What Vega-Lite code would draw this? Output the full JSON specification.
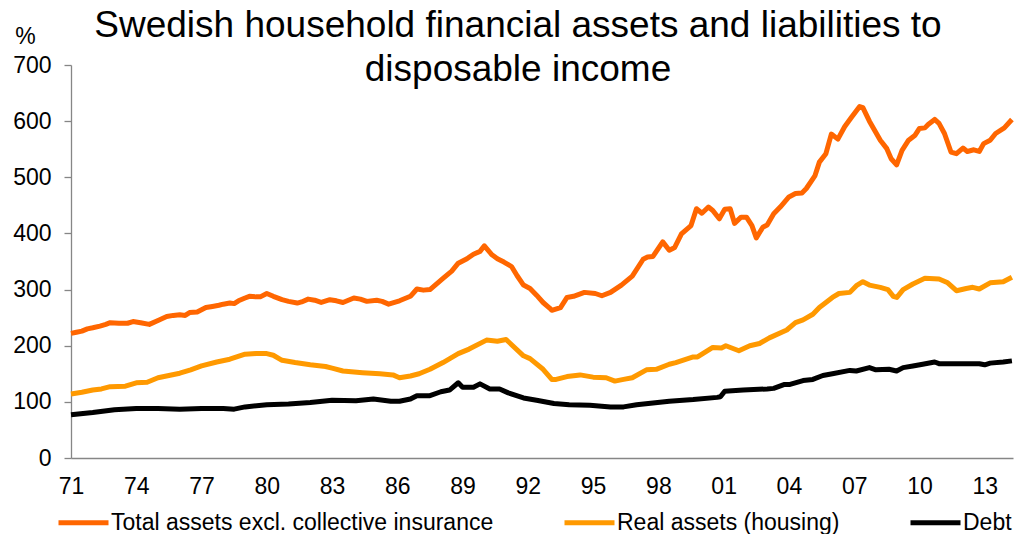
{
  "$schema": "https://vega.github.io/schema/vega-lite/v6.json",
  "width": 942,
  "height": 393,
  "autosize": "none",
  "padding": {"left": 71, "top": 65, "right": 1, "bottom": 76},
  "background": "white",
  "config": {
    "font": "Liberation Sans",
    "view": {"stroke": null},
    "axis": {"grid": false, "domainColor": "#868686", "domainWidth": 1.3, "tickColor": "#868686", "tickWidth": 1.3, "labelFont": "Liberation Sans", "labelFontSize": 23, "labelColor": "#000000", "titleFont": "Liberation Sans", "titleFontWeight": "normal", "titleColor": "#000000"},
    "legend": {"labelFont": "Liberation Sans", "labelFontSize": 23, "labelColor": "#000000", "labelLimit": 0}
  },
  "title": {
    "text": ["Swedish household financial assets and liabilities to", "disposable income"],
    "font": "Liberation Sans",
    "fontSize": 37,
    "fontWeight": "normal",
    "color": "#000000",
    "lineHeight": 44.5,
    "anchor": "middle",
    "frame": "group",
    "dx": -24,
    "dy": 64,
    "offset": 0
  },
  "datasets": {
    "total": [
      {"t": 1971.0, "v": 222}, {"t": 1971.25, "v": 224}, {"t": 1971.5, "v": 226}, {"t": 1971.75, "v": 230},
      {"t": 1972.0, "v": 232}, {"t": 1972.33, "v": 235}, {"t": 1972.6, "v": 238}, {"t": 1972.8, "v": 241},
      {"t": 1973.2, "v": 240}, {"t": 1973.6, "v": 240}, {"t": 1973.85, "v": 243}, {"t": 1974.2, "v": 241},
      {"t": 1974.6, "v": 238}, {"t": 1975.0, "v": 245}, {"t": 1975.4, "v": 252}, {"t": 1975.7, "v": 254},
      {"t": 1976.0, "v": 255}, {"t": 1976.25, "v": 254}, {"t": 1976.45, "v": 259}, {"t": 1976.8, "v": 260},
      {"t": 1977.2, "v": 268}, {"t": 1977.5, "v": 270}, {"t": 1977.8, "v": 272}, {"t": 1978.0, "v": 274},
      {"t": 1978.3, "v": 276}, {"t": 1978.5, "v": 275}, {"t": 1978.7, "v": 280}, {"t": 1979.0, "v": 285},
      {"t": 1979.2, "v": 288}, {"t": 1979.5, "v": 287}, {"t": 1979.7, "v": 287}, {"t": 1980.0, "v": 293},
      {"t": 1980.3, "v": 288}, {"t": 1980.7, "v": 282}, {"t": 1981.0, "v": 279}, {"t": 1981.4, "v": 276},
      {"t": 1981.6, "v": 278}, {"t": 1981.9, "v": 283}, {"t": 1982.2, "v": 281}, {"t": 1982.5, "v": 277},
      {"t": 1982.9, "v": 282}, {"t": 1983.2, "v": 280}, {"t": 1983.5, "v": 277}, {"t": 1984.0, "v": 285},
      {"t": 1984.3, "v": 283}, {"t": 1984.6, "v": 279}, {"t": 1985.05, "v": 281}, {"t": 1985.3, "v": 279},
      {"t": 1985.6, "v": 274}, {"t": 1986.1, "v": 280}, {"t": 1986.6, "v": 288}, {"t": 1986.9, "v": 301},
      {"t": 1987.2, "v": 299}, {"t": 1987.5, "v": 300}, {"t": 1988.1, "v": 320}, {"t": 1988.5, "v": 333},
      {"t": 1988.8, "v": 347}, {"t": 1989.2, "v": 355}, {"t": 1989.5, "v": 363}, {"t": 1989.8, "v": 368},
      {"t": 1990.0, "v": 378}, {"t": 1990.35, "v": 362}, {"t": 1990.6, "v": 355}, {"t": 1990.9, "v": 349},
      {"t": 1991.25, "v": 341}, {"t": 1991.5, "v": 325}, {"t": 1991.8, "v": 308}, {"t": 1992.1, "v": 302},
      {"t": 1992.4, "v": 290}, {"t": 1992.7, "v": 277}, {"t": 1993.0, "v": 267}, {"t": 1993.1, "v": 263},
      {"t": 1993.5, "v": 268}, {"t": 1993.8, "v": 286}, {"t": 1994.1, "v": 288}, {"t": 1994.6, "v": 295},
      {"t": 1995.1, "v": 293}, {"t": 1995.4, "v": 289}, {"t": 1995.8, "v": 295}, {"t": 1996.3, "v": 308},
      {"t": 1996.8, "v": 324}, {"t": 1997.3, "v": 354}, {"t": 1997.5, "v": 358}, {"t": 1997.75, "v": 359},
      {"t": 1998.2, "v": 385}, {"t": 1998.5, "v": 370}, {"t": 1998.75, "v": 375}, {"t": 1999.06, "v": 399},
      {"t": 1999.5, "v": 414}, {"t": 1999.75, "v": 444}, {"t": 2000.0, "v": 436}, {"t": 2000.3, "v": 447},
      {"t": 2000.5, "v": 441}, {"t": 2000.8, "v": 426}, {"t": 2001.05, "v": 443}, {"t": 2001.3, "v": 444},
      {"t": 2001.5, "v": 418}, {"t": 2001.8, "v": 429}, {"t": 2002.05, "v": 429}, {"t": 2002.3, "v": 414},
      {"t": 2002.5, "v": 392}, {"t": 2002.8, "v": 411}, {"t": 2003.0, "v": 415}, {"t": 2003.3, "v": 435},
      {"t": 2003.6, "v": 447}, {"t": 2004.0, "v": 465}, {"t": 2004.3, "v": 471}, {"t": 2004.6, "v": 472},
      {"t": 2004.8, "v": 480}, {"t": 2005.2, "v": 503}, {"t": 2005.4, "v": 527}, {"t": 2005.7, "v": 542},
      {"t": 2005.95, "v": 577}, {"t": 2006.25, "v": 568}, {"t": 2006.56, "v": 590}, {"t": 2006.86, "v": 606},
      {"t": 2007.25, "v": 626}, {"t": 2007.4, "v": 624}, {"t": 2007.7, "v": 600}, {"t": 2008.2, "v": 566},
      {"t": 2008.5, "v": 551}, {"t": 2008.7, "v": 533}, {"t": 2008.95, "v": 522}, {"t": 2009.2, "v": 548},
      {"t": 2009.5, "v": 566}, {"t": 2009.8, "v": 575}, {"t": 2010.0, "v": 587}, {"t": 2010.25, "v": 588},
      {"t": 2010.4, "v": 594}, {"t": 2010.7, "v": 603}, {"t": 2010.9, "v": 596}, {"t": 2011.15, "v": 578},
      {"t": 2011.45, "v": 545}, {"t": 2011.7, "v": 542}, {"t": 2012.0, "v": 552}, {"t": 2012.2, "v": 546},
      {"t": 2012.5, "v": 549}, {"t": 2012.75, "v": 546}, {"t": 2012.95, "v": 560}, {"t": 2013.25, "v": 566},
      {"t": 2013.5, "v": 578}, {"t": 2013.9, "v": 588}, {"t": 2014.25, "v": 603}
    ],
    "real": [
      {"t": 1971.0, "v": 114}, {"t": 1971.5, "v": 117}, {"t": 1972.0, "v": 121}, {"t": 1972.4, "v": 123},
      {"t": 1972.8, "v": 127}, {"t": 1973.5, "v": 128}, {"t": 1974.0, "v": 134}, {"t": 1974.5, "v": 135},
      {"t": 1975.0, "v": 143}, {"t": 1975.5, "v": 147}, {"t": 1976.0, "v": 151}, {"t": 1976.5, "v": 157},
      {"t": 1977.0, "v": 164}, {"t": 1977.7, "v": 171}, {"t": 1978.3, "v": 176}, {"t": 1979.0, "v": 185},
      {"t": 1979.5, "v": 186}, {"t": 1980.0, "v": 186}, {"t": 1980.3, "v": 183}, {"t": 1980.7, "v": 174},
      {"t": 1981.3, "v": 170}, {"t": 1982.0, "v": 166}, {"t": 1982.7, "v": 163}, {"t": 1983.0, "v": 160},
      {"t": 1983.5, "v": 155}, {"t": 1984.4, "v": 152}, {"t": 1985.2, "v": 150}, {"t": 1985.8, "v": 148},
      {"t": 1986.1, "v": 143}, {"t": 1986.6, "v": 146}, {"t": 1987.0, "v": 150}, {"t": 1987.5, "v": 158},
      {"t": 1988.1, "v": 170}, {"t": 1988.8, "v": 186}, {"t": 1989.3, "v": 194}, {"t": 1990.1, "v": 210},
      {"t": 1990.6, "v": 208}, {"t": 1991.0, "v": 211}, {"t": 1991.8, "v": 182}, {"t": 1992.1, "v": 177},
      {"t": 1992.7, "v": 158}, {"t": 1993.1, "v": 140}, {"t": 1993.3, "v": 140}, {"t": 1993.8, "v": 145},
      {"t": 1994.4, "v": 148}, {"t": 1995.0, "v": 144}, {"t": 1995.6, "v": 143}, {"t": 1996.0, "v": 137},
      {"t": 1996.4, "v": 140}, {"t": 1996.8, "v": 143}, {"t": 1997.45, "v": 157}, {"t": 1997.9, "v": 158},
      {"t": 1998.5, "v": 167}, {"t": 1998.8, "v": 170}, {"t": 1999.6, "v": 180}, {"t": 1999.8, "v": 180},
      {"t": 2000.5, "v": 197}, {"t": 2000.9, "v": 196}, {"t": 2001.1, "v": 200}, {"t": 2001.7, "v": 191},
      {"t": 2002.2, "v": 200}, {"t": 2002.65, "v": 204}, {"t": 2003.1, "v": 214}, {"t": 2003.9, "v": 228},
      {"t": 2004.3, "v": 241}, {"t": 2004.65, "v": 246}, {"t": 2005.1, "v": 256}, {"t": 2005.4, "v": 268},
      {"t": 2005.7, "v": 277}, {"t": 2006.0, "v": 286}, {"t": 2006.3, "v": 293}, {"t": 2006.8, "v": 295},
      {"t": 2007.1, "v": 307}, {"t": 2007.4, "v": 314}, {"t": 2007.7, "v": 308}, {"t": 2008.2, "v": 304},
      {"t": 2008.55, "v": 300}, {"t": 2008.8, "v": 288}, {"t": 2008.96, "v": 286}, {"t": 2009.25, "v": 300},
      {"t": 2009.7, "v": 310}, {"t": 2010.25, "v": 320}, {"t": 2010.9, "v": 319}, {"t": 2011.3, "v": 312},
      {"t": 2011.7, "v": 298}, {"t": 2012.15, "v": 302}, {"t": 2012.45, "v": 304}, {"t": 2012.75, "v": 301},
      {"t": 2013.25, "v": 312}, {"t": 2013.85, "v": 314}, {"t": 2014.25, "v": 322}
    ],
    "debt": [
      {"t": 1971.0, "v": 77}, {"t": 1972.0, "v": 81}, {"t": 1973.0, "v": 86}, {"t": 1974.0, "v": 88},
      {"t": 1975.0, "v": 88}, {"t": 1976.0, "v": 87}, {"t": 1977.0, "v": 88}, {"t": 1978.0, "v": 88},
      {"t": 1978.5, "v": 87}, {"t": 1979.0, "v": 91}, {"t": 1980.0, "v": 95}, {"t": 1981.0, "v": 96},
      {"t": 1982.0, "v": 99}, {"t": 1983.0, "v": 103}, {"t": 1984.1, "v": 102}, {"t": 1984.9, "v": 105},
      {"t": 1985.7, "v": 101}, {"t": 1986.1, "v": 101}, {"t": 1986.6, "v": 105}, {"t": 1986.9, "v": 111},
      {"t": 1987.5, "v": 111}, {"t": 1988.0, "v": 118}, {"t": 1988.4, "v": 121}, {"t": 1988.8, "v": 134},
      {"t": 1989.0, "v": 126}, {"t": 1989.5, "v": 126}, {"t": 1989.8, "v": 132}, {"t": 1990.25, "v": 123},
      {"t": 1990.7, "v": 123}, {"t": 1991.1, "v": 116}, {"t": 1991.8, "v": 107}, {"t": 1992.4, "v": 103},
      {"t": 1993.2, "v": 97}, {"t": 1993.9, "v": 95}, {"t": 1994.85, "v": 94}, {"t": 1995.8, "v": 91},
      {"t": 1996.4, "v": 91}, {"t": 1997.0, "v": 95}, {"t": 1997.75, "v": 98}, {"t": 1998.5, "v": 101},
      {"t": 1999.6, "v": 104}, {"t": 2000.7, "v": 108}, {"t": 2000.85, "v": 109}, {"t": 2001.05, "v": 119},
      {"t": 2001.9, "v": 121}, {"t": 2003.0, "v": 123}, {"t": 2003.3, "v": 124}, {"t": 2003.8, "v": 131},
      {"t": 2004.05, "v": 131}, {"t": 2004.65, "v": 138}, {"t": 2005.1, "v": 140}, {"t": 2005.56, "v": 147},
      {"t": 2006.0, "v": 150}, {"t": 2006.8, "v": 156}, {"t": 2007.1, "v": 155}, {"t": 2007.7, "v": 161},
      {"t": 2008.0, "v": 157}, {"t": 2008.6, "v": 158}, {"t": 2008.95, "v": 155}, {"t": 2009.25, "v": 161},
      {"t": 2009.7, "v": 164}, {"t": 2010.15, "v": 167}, {"t": 2010.7, "v": 171}, {"t": 2010.9, "v": 168},
      {"t": 2011.85, "v": 168}, {"t": 2012.75, "v": 168}, {"t": 2013.0, "v": 166}, {"t": 2013.25, "v": 169},
      {"t": 2013.85, "v": 171}, {"t": 2014.25, "v": 173}
    ]
  },
  "encoding": {
    "x": {
      "field": "t", "type": "quantitative",
      "scale": {"domain": [1971, 2014.3], "nice": false, "zero": false},
      "axis": {"title": null, "values": [1971, 1974, 1977, 1980, 1983, 1986, 1989, 1992, 1995, 1998, 2001, 2004, 2007, 2010, 2013], "labelExpr": "slice(toString(datum.value), 2)", "ticks": false, "labelPadding": 17, "labelFlush": false, "labelOverlap": false}
    },
    "y": {
      "field": "v", "type": "quantitative",
      "scale": {"domain": [0, 700], "nice": false},
      "axis": {"title": "%", "titleAngle": 0, "titleFontSize": 23, "titleAlign": "center", "titleBaseline": "alphabetic", "titleX": -46, "titleY": -22, "values": [0, 100, 200, 300, 400, 500, 600, 700], "tickSize": 7, "labelPadding": 13}
    },
    "color": {
      "datum": "Total assets excl. collective insurance",
      "type": "nominal",
      "scale": {"domain": ["Total assets excl. collective insurance", "Real assets (housing)", "Debt"], "range": ["#ff6600", "#ff9900", "#000000"]},
      "legend": {"title": null, "orient": "none", "direction": "horizontal", "legendX": -15, "legendY": 430, "symbolType": "stroke", "symbolStrokeWidth": 5, "symbolSize": 2500, "labelOffset": 0, "columnPadding": 60}
    }
  },
  "layer": [
    {"data": {"name": "debt"}, "mark": {"type": "line", "strokeWidth": 5, "strokeJoin": "round"}, "encoding": {"color": {"datum": "Debt", "type": "nominal"}}},
    {"data": {"name": "real"}, "mark": {"type": "line", "strokeWidth": 5, "strokeJoin": "round"}, "encoding": {"color": {"datum": "Real assets (housing)", "type": "nominal"}}},
    {"data": {"name": "total"}, "mark": {"type": "line", "strokeWidth": 5, "strokeJoin": "round"}}
  ]
}
